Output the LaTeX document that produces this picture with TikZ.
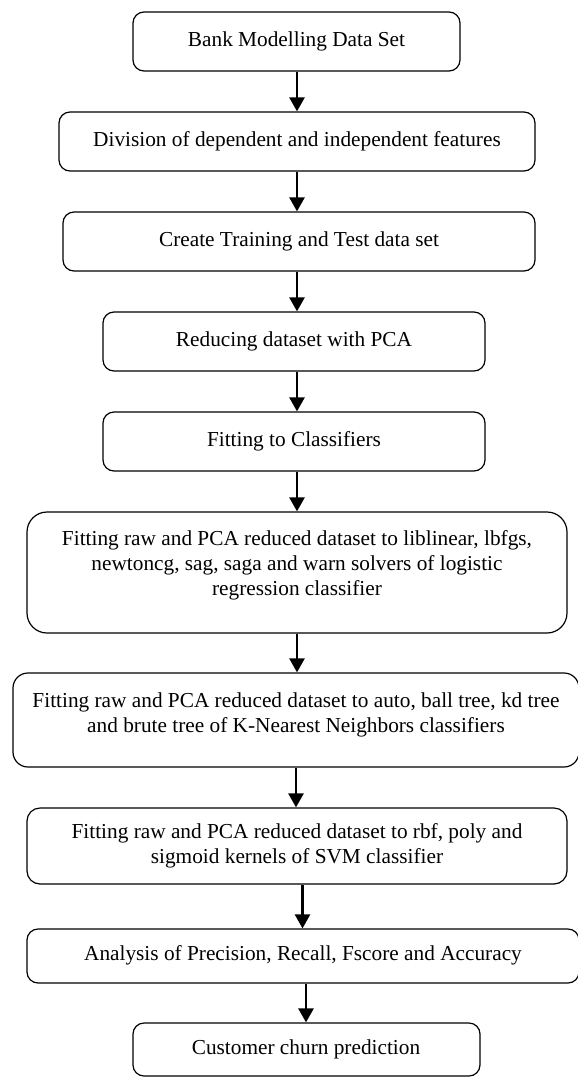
\documentclass[tikz,border=0pt]{standalone}
\usepackage{fontspec}
\setmainfont{Liberation Serif}
\usetikzlibrary{arrows.meta}
\begin{document}
\begin{tikzpicture}[x=1pt,y=-1pt,
  box/.style={draw=black,line width=1.2pt,rounded corners=#1,inner sep=0pt},
  box/.default=11pt,
  txt/.style={font=\fontsize{21.3}{25}\selectfont,align=center,inner sep=0pt},
  arr/.style={line width=2.5pt,-{Triangle[length=14pt,width=15pt]}}]
\useasboundingbox (0,0) rectangle (578,1077);
\node[box,minimum width=327pt,minimum height=59pt] (b1) at (296.5,41.5) {};
\node[txt] (t1) at (b1) {Bank Modelling Data Set};
\node[box,minimum width=476pt,minimum height=59pt] (b2) at (297,141.5) {};
\node[txt] (t2) at (b2) {Division of dependent and independent features};
\node[box,minimum width=472pt,minimum height=59pt] (b3) at (299,241.5) {};
\node[txt] (t3) at (b3) {Create Training and Test data set};
\node[box,minimum width=382pt,minimum height=59pt] (b4) at (294,341.5) {};
\node[txt] (t4) at (b4) {Reducing dataset with PCA};
\node[box,minimum width=382pt,minimum height=59pt] (b5) at (294,441.5) {};
\node[txt] (t5) at (b5) {Fitting to Classifiers};
\node[box=20pt,minimum width=540pt,minimum height=121pt] (b6) at (297,572.5) {};
\node[txt] (t6) at (297,565) {Fitting raw and PCA reduced dataset to liblinear, lbfgs,\\newtoncg, sag, saga and warn solvers of logistic\\regression classifier};
\node[box=15pt,minimum width=566pt,minimum height=94pt] (b7) at (296,720) {};
\node[txt] (t7) at (296,714.5) {Fitting raw and PCA reduced dataset to auto, ball tree, kd tree\\and brute tree of K-Nearest Neighbors classifiers};
\node[box=13pt,minimum width=540pt,minimum height=76pt] (b8) at (297,846) {};
\node[txt] (t8) at (297,845.5) {Fitting raw and PCA reduced dataset to rbf, poly and\\sigmoid kernels of SVM classifier};
\node[box,minimum width=552pt,minimum height=54pt] (b9) at (303,956) {};
\node[txt] (t9) at (303,955) {Analysis of Precision, Recall, Fscore and Accuracy};
\node[box,minimum width=347pt,minimum height=53pt] (b10) at (306.5,1049.5) {};
\node[txt] (t10) at (306,1049) {Customer churn prediction};
\coordinate (ca) at (297,0);
\coordinate (cb) at (296,0);
\coordinate (cc) at (302.5,0);
\coordinate (cd) at (306,0);
\draw[arr] (b1.south -| ca) -- (b2.north -| ca);
\draw[arr] (b2.south -| ca) -- (b3.north -| ca);
\draw[arr] (b3.south -| ca) -- (b4.north -| ca);
\draw[arr] (b4.south -| ca) -- (b5.north -| ca);
\draw[arr] (b5.south -| ca) -- (b6.north -| ca);
\draw[arr] (b6.south -| ca) -- (b7.north -| ca);
\draw[arr] (b7.south -| cb) -- (b8.north -| cb);
\draw[arr] (b8.south -| cc) -- (b9.north -| cc);
\draw[arr] (b9.south -| cd) -- (b10.north -| cd);
\end{tikzpicture}
\end{document}
